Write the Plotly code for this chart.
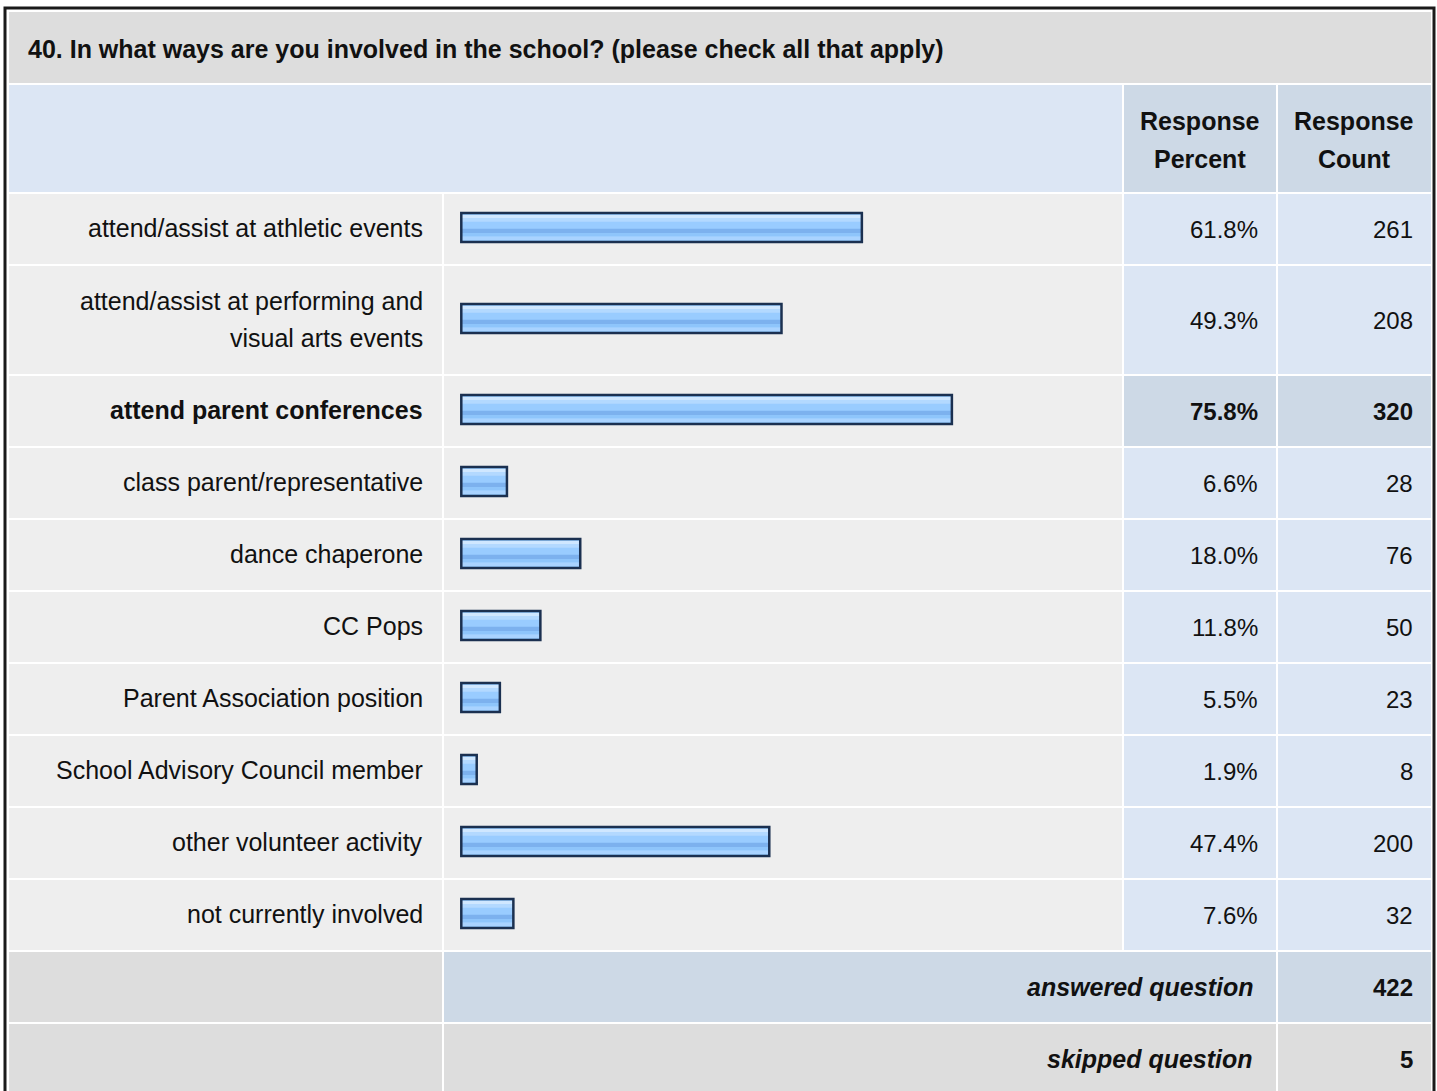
import plotly.graph_objects as go

title = "40. In what ways are you involved in the school? (please check all that apply)"
categories = [
    "attend/assist at athletic events",
    "attend/assist at performing and<br>visual arts events",
    "attend parent conferences",
    "class parent/representative",
    "dance chaperone",
    "CC Pops",
    "Parent Association position",
    "School Advisory Council member",
    "other volunteer activity",
    "not currently involved",
]
percents = [61.8, 49.3, 75.8, 6.6, 18.0, 11.8, 5.5, 1.9, 47.4, 7.6]
counts = [261, 208, 320, 28, 76, 50, 23, 8, 200, 32]
answered = 422
skipped = 5

W, H = 1437, 1091
FONT = "Liberation Sans, Arial, sans-serif"
FS_TEXT = 25
FS_NUM = 24
GAP = 2
# column edges (px): label | bar | percent | count
cx = [9, 444, 1124, 1278, 1433]

GRAY = "#eeeeee"
DGRAY = "#dddddd"
LBLUE = "#dce6f4"
MBLUE = "#cdd9e6"

shapes = []
annots = []


def cell(x0, x1, y0, y1, color):
    shapes.append(dict(type="rect", xref="paper", yref="y", x0=x0 / W, x1=x1 / W,
                       y0=y0, y1=y1, fillcolor=color, line_width=0, layer="below"))


def txt(x, y, s, align="right", bold=False, italic=False, size=FS_TEXT):
    if bold:
        s = "<b>" + s + "</b>"
    if italic:
        s = "<i>" + s + "</i>"
    annots.append(dict(xref="paper", yref="y", x=x / W, y=y, text=s, showarrow=False,
                       xanchor=align, yanchor="middle",
                       font=dict(family=FONT, size=size, color="#111111")))


# title row
cell(cx[0], cx[4] - GAP, 12, 83, DGRAY)
txt(26, 49, title, align="left", bold=True)

# header row
cell(cx[0], cx[2] - GAP, 85, 192, LBLUE)
cell(cx[2], cx[3] - GAP, 85, 192, MBLUE)
cell(cx[3], cx[4] - GAP, 85, 192, MBLUE)
for xc, words in [(1200, ("Response", "Percent")), (1354, ("Response", "Count"))]:
    txt(xc, 121, words[0], align="center", bold=True)
    txt(xc, 159, words[1], align="center", bold=True)

# data rows
top_pct = max(percents)
centers = []
y = 194
for cat, p, n in zip(categories, percents, counts):
    lines = cat.split("<br>")
    h = 70 + 38 * (len(lines) - 1)
    y0, y1 = y, y + h
    mid = (y0 + y1) / 2
    centers.append(mid - 1.5)
    hl = p == top_pct
    cell(cx[0], cx[1] - GAP, y0, y1, GRAY)
    cell(cx[1], cx[2] - GAP, y0, y1, GRAY)
    cell(cx[2], cx[3] - GAP, y0, y1, MBLUE if hl else LBLUE)
    cell(cx[3], cx[4] - GAP, y0, y1, MBLUE if hl else LBLUE)
    for i, ln in enumerate(lines):
        txt(425, mid - 1 + 37 * (i - (len(lines) - 1) / 2), ln, bold=hl)
    txt(1260, mid, f"{p:.1f}%", bold=hl, size=FS_NUM)
    txt(1415, mid, str(n), bold=hl, size=FS_NUM)
    y = y1 + GAP

# summary rows
for label, val, bg in [("answered question", answered, MBLUE), ("skipped question", skipped, DGRAY)]:
    y0, y1 = y, y + 70
    mid = (y0 + y1) / 2
    cell(cx[0], cx[1] - GAP, y0, y1, DGRAY)
    cell(cx[1], cx[3] - GAP, y0, y1, bg)
    cell(cx[3], cx[4] - GAP, y0, y1, bg)
    txt(1255, mid, label, bold=True, italic=True)
    txt(1415, mid, str(val), bold=True, size=FS_NUM)
    y = y1 + GAP

# outer frame
shapes.append(dict(type="rect", xref="paper", yref="y", x0=5 / W, x1=1434 / W, y0=8, y1=H + 20,
                   line=dict(color="#1a1a1a", width=3), fillcolor="rgba(0,0,0,0)", layer="above"))

fig = go.Figure()

BAR_W = 29
BASE = -0.5
fig.add_trace(go.Bar(x=[p - BASE for p in percents], y=centers, orientation="h",
                     width=BAR_W, base=BASE,
                     marker=dict(color="#99ccff", line_width=0), hoverinfo="skip"))
# glossy stripes inside the bar
stripes = [(-12.5, 3, "#cfe7ff"), (-9.5, 3.7, "#b3d9ff"), (1.2, 4.3, "#7cb1ee"),
           (5.5, 3.4, "#8ec5fb"), (8.9, 3.6, "#a9d3ff")]
for off, wd, col in stripes:
    fig.add_trace(go.Bar(x=[p - BASE for p in percents], y=centers, orientation="h",
                         width=wd, offset=off, base=BASE,
                         marker=dict(color=col, line_width=0), hoverinfo="skip"))
fig.add_trace(go.Bar(x=[p - BASE for p in percents], y=centers, orientation="h",
                     width=BAR_W, base=BASE,
                     marker=dict(color="rgba(0,0,0,0)", line=dict(color="#1b3050", width=2.5)),
                     hoverinfo="skip"))

# 1 percentage point = 6.43 px; 0% sits at x = 464.5 px
fig.update_layout(
    width=W, height=H,
    margin=dict(l=0, r=0, t=0, b=0),
    paper_bgcolor="white", plot_bgcolor="rgba(0,0,0,0)",
    barmode="overlay", showlegend=False,
    xaxis=dict(domain=[(464.5 - 6.43) / W, 1107.5 / W], range=[-1, 100], visible=False,
               fixedrange=True),
    yaxis=dict(domain=[0, 1], range=[H, 0], visible=False, fixedrange=True),
    shapes=shapes, annotations=annots,
)

fig.write_html("out.html", config={"displayModeBar": False},
               post_script="document.body.style.margin='0';document.body.style.overflow='hidden';")
